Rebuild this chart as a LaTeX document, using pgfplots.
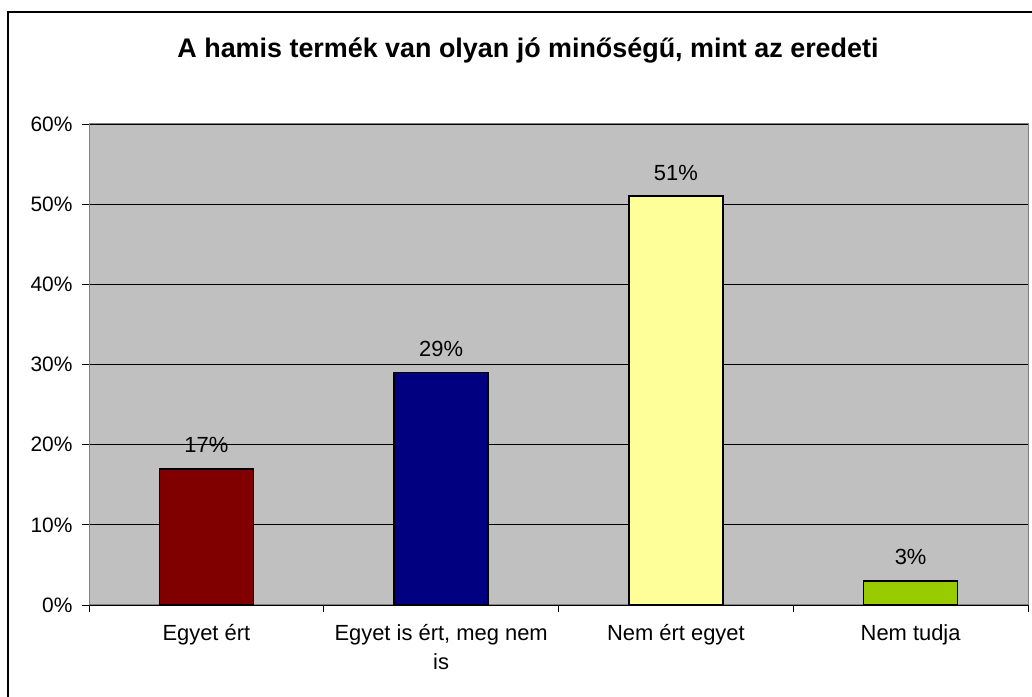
\documentclass[border=0pt]{standalone}
\usepackage{fontspec}
\setmainfont{Liberation Sans}
\usepackage{pgfplots}
\pgfplotsset{compat=1.18}
\definecolor{plotgray}{HTML}{C0C0C0}
\definecolor{c1}{HTML}{800000}
\definecolor{c2}{HTML}{000080}
\definecolor{c3}{HTML}{FFFF99}
\definecolor{c4}{HTML}{99CC00}
\begin{document}
\begin{tikzpicture}[x=1bp,y=1bp]
\path[use as bounding box] (0,0) rectangle (1032,697);
\draw[line width=2bp] (8,0) -- (8,685) -- (1032,685);
\node[font=\fontsize{27}{30}\selectfont\bfseries] at (528,647) {A hamis termék van olyan jó minőségű, mint az eredeti};
\begin{axis}[
  at={(89bp,92bp)}, anchor=south west,
  scale only axis, width=939bp, height=481bp,
  xmin=-0.5, xmax=3.5, ymin=0, ymax=60,
  enlargelimits=false,
  axis background/.style={fill=plotgray},
  axis line style={draw=black!50, line width=1bp},
  ymajorgrids, major grid style={black, line width=0.8bp},
  ytick={0,10,20,30,40,50,60},
  yticklabel={\pgfmathprintnumber{\tick}\%},
  /pgf/number format/assume math mode=true,
  tick pos=left,
  tick align=outside, major tick length=7bp,
  tick style={black, line width=0.8bp},
  xtick={0,1,2,3},
  xticklabels={Egyet ért, {Egyet is ért, meg nem\\is}, Nem ért egyet, Nem tudja},
  xtick style={draw=none},
  extra x ticks={-0.5,0.5,1.5,2.5,3.5},
  extra x tick labels={},
  extra x tick style={xtick style={draw=black}, xmajorgrids=false, tick pos=left},
  ticklabel style={font=\fontsize{21}{29}\selectfont},
  xticklabel style={font=\fontsize{22}{29}\selectfont, align=center, yshift=-9bp},
  yticklabel style={xshift=-6bp},
  ybar, bar width=94bp, bar shift=0pt,
  nodes near coords={\pgfmathprintnumber{\pgfplotspointmeta}\%},
  nodes near coords style={font=\fontsize{22}{24}\selectfont, anchor=base, inner sep=0pt, yshift=16bp, black},
  every axis plot/.append style={draw=black, line width=1.6bp},
]
\addplot[fill=c1] coordinates {(0,17)};
\addplot[fill=c2] coordinates {(1,29)};
\addplot[fill=c3] coordinates {(2,51)};
\addplot[fill=c4] coordinates {(3,3)};
\end{axis}
\end{tikzpicture}
\end{document}
